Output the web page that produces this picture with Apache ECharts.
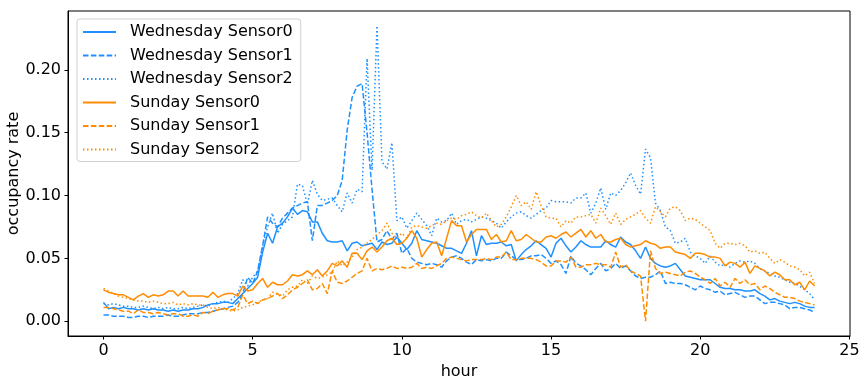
<!DOCTYPE html>
<html><head><meta charset="utf-8">
<script src="https://cdn.jsdelivr.net/npm/echarts@6/dist/echarts.min.js"></script>
<style>html,body{margin:0;padding:0;background:#fff}#c{width:866px;height:385px}</style>
</head><body><div id="c"></div>
<script>
// samples every 10 minutes, 0:00 .. 23:50
const stepsPerHour = 6;
const xTickValues = [0, 5, 10, 15, 20, 25];
const yTickValues = [0, 0.05, 0.10, 0.15, 0.20];
const seriesNames = ['Wednesday Sensor0','Wednesday Sensor1','Wednesday Sensor2','Sunday Sensor0','Sunday Sensor1','Sunday Sensor2'];

const wedSensor0 = [
0.015,0.010,0.011,0.010,0.011,0.010, 0.010,0.009,0.010,0.009,0.010,0.009,
0.009,0.008,0.009,0.008,0.009,0.009, 0.010,0.010,0.011,0.013,0.014,0.014,
0.015,0.015,0.014,0.018,0.022,0.026, 0.030,0.035,0.055,0.070,0.062,0.075,
0.078,0.083,0.090,0.085,0.088,0.087, 0.079,0.079,0.070,0.064,0.063,0.063,
0.064,0.056,0.062,0.063,0.060,0.061, 0.062,0.057,0.063,0.061,0.062,0.067,
0.062,0.057,0.062,0.072,0.065,0.064, 0.063,0.062,0.060,0.058,0.058,0.056,
0.054,0.062,0.072,0.052,0.068,0.061, 0.062,0.062,0.063,0.060,0.061,0.048,
0.053,0.057,0.060,0.064,0.061,0.058, 0.051,0.062,0.066,0.060,0.055,0.059,
0.064,0.061,0.059,0.059,0.059,0.064, 0.061,0.059,0.067,0.063,0.061,0.056,
0.050,0.059,0.050,0.046,0.044,0.043, 0.044,0.046,0.041,0.036,0.035,0.034,
0.033,0.033,0.033,0.030,0.027,0.026, 0.026,0.025,0.025,0.024,0.024,0.025,
0.022,0.020,0.017,0.018,0.016,0.015, 0.014,0.015,0.014,0.012,0.011,0.011];

const wedSensor1 = [
0.005,0.005,0.004,0.004,0.004,0.003, 0.003,0.004,0.004,0.003,0.004,0.004,
0.004,0.005,0.004,0.004,0.005,0.006, 0.006,0.006,0.007,0.007,0.008,0.009,
0.010,0.011,0.012,0.015,0.022,0.035, 0.030,0.040,0.060,0.083,0.078,0.075,
0.082,0.086,0.090,0.092,0.094,0.095, 0.064,0.092,0.092,0.094,0.096,0.100,
0.112,0.152,0.178,0.187,0.189,0.150, 0.105,0.063,0.065,0.072,0.065,0.070,
0.054,0.058,0.050,0.047,0.046,0.045, 0.046,0.045,0.043,0.048,0.051,0.052,
0.050,0.047,0.045,0.049,0.048,0.049, 0.048,0.050,0.050,0.055,0.052,0.049,
0.049,0.050,0.052,0.052,0.053,0.050, 0.046,0.048,0.045,0.038,0.052,0.046,
0.044,0.041,0.037,0.042,0.046,0.040, 0.042,0.046,0.042,0.044,0.040,0.036,
0.034,0.035,0.035,0.037,0.040,0.030, 0.031,0.030,0.030,0.029,0.027,0.025,
0.028,0.026,0.025,0.023,0.024,0.021, 0.022,0.023,0.021,0.019,0.020,0.020,
0.017,0.014,0.015,0.015,0.014,0.013, 0.010,0.011,0.011,0.010,0.009,0.007];

const wedSensor2 = [
0.014,0.013,0.014,0.013,0.012,0.012, 0.011,0.011,0.012,0.011,0.010,0.011,
0.010,0.011,0.010,0.010,0.011,0.010, 0.011,0.012,0.013,0.012,0.014,0.015,
0.016,0.015,0.018,0.022,0.033,0.028, 0.035,0.040,0.060,0.075,0.086,0.070,
0.077,0.080,0.083,0.109,0.108,0.093, 0.112,0.101,0.096,0.097,0.098,0.092,
0.087,0.102,0.094,0.105,0.103,0.209, 0.120,0.235,0.127,0.121,0.142,0.080,
0.083,0.074,0.080,0.086,0.081,0.076, 0.068,0.082,0.079,0.080,0.086,0.077,
0.080,0.081,0.079,0.081,0.083,0.082, 0.080,0.078,0.074,0.079,0.083,0.086,
0.087,0.084,0.082,0.085,0.088,0.090, 0.096,0.095,0.095,0.095,0.094,0.098,
0.098,0.102,0.086,0.094,0.106,0.089, 0.102,0.100,0.104,0.110,0.118,0.108,
0.101,0.137,0.130,0.094,0.088,0.075, 0.072,0.062,0.063,0.066,0.055,0.052,
0.050,0.046,0.052,0.047,0.044,0.045, 0.043,0.046,0.048,0.047,0.048,0.046,
0.042,0.040,0.038,0.036,0.035,0.033, 0.031,0.030,0.028,0.025,0.022,0.017];

const sunSensor0 = [
0.025,0.023,0.022,0.021,0.021,0.019, 0.017,0.020,0.022,0.019,0.021,0.020,
0.021,0.024,0.024,0.020,0.024,0.020, 0.020,0.020,0.020,0.019,0.023,0.019,
0.021,0.022,0.022,0.020,0.028,0.024, 0.025,0.030,0.034,0.027,0.031,0.029,
0.029,0.032,0.037,0.036,0.037,0.040, 0.037,0.041,0.036,0.040,0.046,0.044,
0.048,0.043,0.054,0.054,0.049,0.056, 0.059,0.055,0.059,0.064,0.066,0.061,
0.062,0.066,0.072,0.066,0.051,0.057, 0.062,0.063,0.052,0.066,0.080,0.076,
0.076,0.063,0.069,0.073,0.073,0.073, 0.065,0.069,0.063,0.064,0.072,0.064,
0.065,0.069,0.066,0.063,0.063,0.067, 0.068,0.066,0.069,0.071,0.067,0.070,
0.073,0.067,0.072,0.066,0.069,0.063, 0.063,0.065,0.066,0.061,0.059,0.060,
0.061,0.064,0.062,0.061,0.058,0.059, 0.059,0.055,0.054,0.053,0.050,0.054,
0.054,0.053,0.051,0.051,0.050,0.044, 0.047,0.046,0.043,0.047,0.038,0.044,
0.042,0.040,0.036,0.039,0.037,0.033, 0.033,0.029,0.031,0.025,0.032,0.028];

const sunSensor1 = [
0.011,0.011,0.010,0.009,0.008,0.008, 0.006,0.009,0.007,0.007,0.006,0.007,
0.006,0.005,0.006,0.006,0.004,0.004, 0.005,0.004,0.007,0.006,0.008,0.009,
0.010,0.010,0.009,0.011,0.021,0.014, 0.016,0.014,0.017,0.018,0.020,0.022,
0.018,0.021,0.025,0.027,0.030,0.033, 0.025,0.026,0.030,0.022,0.040,0.031,
0.030,0.032,0.035,0.038,0.040,0.050, 0.040,0.042,0.041,0.042,0.044,0.042,
0.043,0.042,0.043,0.046,0.042,0.043, 0.042,0.044,0.046,0.050,0.051,0.050,
0.049,0.048,0.049,0.049,0.049,0.050, 0.049,0.051,0.051,0.055,0.049,0.049,
0.050,0.050,0.050,0.049,0.047,0.044, 0.044,0.048,0.048,0.047,0.051,0.043,
0.043,0.045,0.045,0.046,0.045,0.045, 0.043,0.055,0.043,0.045,0.040,0.038,
0.036,0.000,0.056,0.042,0.038,0.039, 0.038,0.037,0.036,0.039,0.040,0.038,
0.035,0.033,0.030,0.034,0.028,0.031, 0.027,0.034,0.030,0.033,0.029,0.030,
0.025,0.028,0.026,0.023,0.021,0.019, 0.019,0.018,0.016,0.015,0.014,0.013];

const sunSensor2 = [
0.026,0.024,0.022,0.020,0.019,0.018, 0.017,0.016,0.016,0.015,0.016,0.015,
0.014,0.014,0.015,0.013,0.014,0.013, 0.014,0.013,0.013,0.011,0.010,0.011,
0.010,0.009,0.008,0.009,0.011,0.012, 0.013,0.015,0.017,0.018,0.023,0.022,
0.020,0.025,0.027,0.028,0.033,0.030, 0.036,0.034,0.035,0.037,0.039,0.048,
0.044,0.047,0.051,0.057,0.059,0.062, 0.065,0.069,0.072,0.078,0.070,0.066,
0.070,0.066,0.075,0.076,0.075,0.074, 0.076,0.078,0.077,0.080,0.082,0.081,
0.084,0.085,0.087,0.084,0.082,0.086, 0.080,0.075,0.077,0.083,0.091,0.100,
0.092,0.095,0.089,0.103,0.092,0.083, 0.082,0.082,0.075,0.080,0.078,0.083,
0.083,0.084,0.085,0.078,0.090,0.084, 0.077,0.086,0.077,0.081,0.083,0.085,
0.088,0.082,0.078,0.091,0.087,0.083, 0.090,0.091,0.088,0.080,0.082,0.081,
0.078,0.075,0.072,0.062,0.058,0.062, 0.062,0.061,0.062,0.060,0.055,0.056,
0.054,0.055,0.050,0.046,0.049,0.047, 0.044,0.043,0.041,0.036,0.039,0.030];

const allValues = [wedSensor0, wedSensor1, wedSensor2, sunSensor0, sunSensor1, sunSensor2];

const BLUE = '#1E90FF', ORANGE = '#FF8C00';
const colors = [BLUE, BLUE, BLUE, ORANGE, ORANGE, ORANGE];
const dashes = ['solid', [5.5, 2.4], [1.5, 2.5], 'solid', [5.5, 2.4], [1.5, 2.5]];
const FONT = 'DejaVu Sans';

const series = allValues.map((vals, k) => ({
  name: seriesNames[k],
  type: 'line',
  symbol: 'none',
  showSymbol: false,
  animation: false,
  color: colors[k],
  itemStyle: { color: colors[k] },
  lineStyle: { color: colors[k], width: 1.5, type: dashes[k] },
  data: vals.map((v, i) => [i / stepsPerHour, v])
}));

const chart = echarts.init(document.getElementById('c'), null, { renderer: 'canvas' });
chart.setOption({
  animation: false,
  backgroundColor: '#fff',
  grid: { left: 68, right: 16, top: 11, bottom: 49, containLabel: false, outerBoundsMode: 'none',
    show: true, borderColor: '#000', borderWidth: 1, backgroundColor: 'transparent' },
  xAxis: {
    type: 'value', min: -1.19, max: 25.02,
    name: 'hour', nameLocation: 'middle', nameGap: 28, nameMoveOverlap: false,
    nameTextStyle: { fontFamily: FONT, fontSize: 16, color: '#000' },
    axisLine: { show: true, onZero: false, lineStyle: { color: '#000', width: 1 } },
    axisTick: { show: true, length: 3.5, lineStyle: { color: '#000', width: 1 }, customValues: xTickValues },
    axisLabel: { fontFamily: FONT, fontSize: 16, color: '#000', margin: 7, customValues: xTickValues },
    splitLine: { show: false }
  },
  yAxis: {
    type: 'value', min: -0.01175, max: 0.24675,
    name: 'occupancy rate', nameLocation: 'middle', nameGap: 46, nameRotate: 90, nameMoveOverlap: false,
    nameTextStyle: { fontFamily: FONT, fontSize: 16, color: '#000' },
    axisLine: { show: true, onZero: false, lineStyle: { color: '#000', width: 1 } },
    axisTick: { show: true, length: 3.5, lineStyle: { color: '#000', width: 1 }, customValues: yTickValues },
    axisLabel: { fontFamily: FONT, fontSize: 16, color: '#000', margin: 7, customValues: yTickValues,
      formatter: v => v.toFixed(2) },
    splitLine: { show: false }
  },
  legend: {
    orient: 'vertical', left: 77, top: 19,
    data: seriesNames,
    itemWidth: 33, itemHeight: 14, itemGap: 7.5,
    padding: [5, 8, 4, 5],
    itemStyle: { opacity: 0 },
    backgroundColor: 'rgba(255,255,255,0.8)',
    borderColor: '#d0d0d0', borderWidth: 1, borderRadius: 3,
    textStyle: { fontFamily: FONT, fontSize: 16, lineHeight: 14, color: '#000', padding: [0, 0, 0, 9] }
  },
  series: series
});
</script>
</body></html>
